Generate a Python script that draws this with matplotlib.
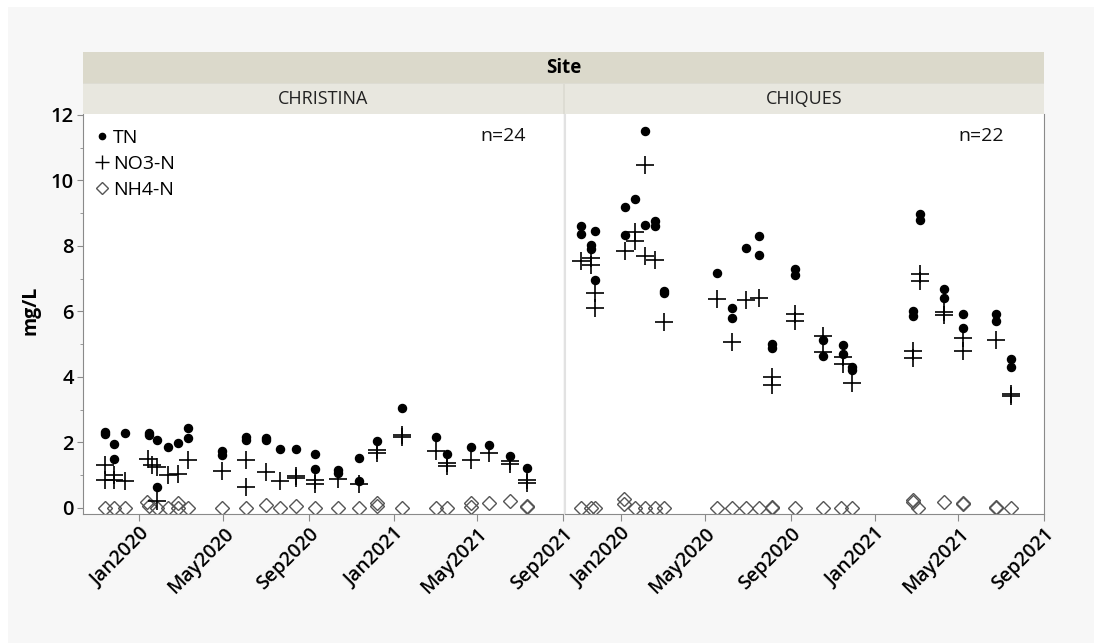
import matplotlib
matplotlib.use("Agg")
import matplotlib.pyplot as plt
import matplotlib.dates as mdates
from matplotlib.lines import Line2D
from matplotlib.patches import Rectangle
from matplotlib.ticker import MultipleLocator
import pandas as pd

plt.rcParams["font.family"] = ["Open Sans", "DejaVu Sans"]

W, H = 1094, 643

# CHRISTINA site
christina_tn_dates = [
    "2019-11-12", "2019-11-12", "2019-11-25", "2019-11-25", "2019-12-11",
    "2020-01-15", "2020-01-15", "2020-01-26", "2020-01-26", "2020-02-11",
    "2020-02-25", "2020-03-11", "2020-03-11", "2020-04-29", "2020-04-29",
    "2020-06-02", "2020-06-02", "2020-07-01", "2020-07-01", "2020-07-22",
    "2020-08-14", "2020-09-10", "2020-09-10", "2020-10-13", "2020-10-13",
    "2020-11-12", "2020-11-12", "2020-12-08", "2021-01-13", "2021-03-03",
    "2021-03-18", "2021-04-22", "2021-05-18", "2021-06-17", "2021-07-11",
]
christina_tn = [
    2.30, 2.24, 1.94, 1.50, 2.28,
    2.28, 2.22, 2.07, 0.63, 1.85,
    1.99, 2.45, 2.14, 1.73, 1.61,
    2.17, 2.07, 2.14, 2.08, 1.81,
    1.81, 1.63, 1.18, 1.15, 1.05,
    1.51, 0.82, 2.04, 3.05, 2.15,
    1.64, 1.86, 1.92, 1.58, 1.22,
]
christina_no3_dates = [
    "2019-11-12", "2019-11-12", "2019-11-25", "2019-11-25", "2019-12-11",
    "2020-01-13", "2020-01-19", "2020-01-26", "2020-01-26", "2020-02-11",
    "2020-02-25", "2020-03-11", "2020-04-29", "2020-06-02", "2020-06-02",
    "2020-07-01", "2020-07-22", "2020-08-14", "2020-08-14", "2020-09-10",
    "2020-09-10", "2020-10-13", "2020-11-12", "2020-12-08", "2020-12-08",
    "2021-01-13", "2021-01-13", "2021-03-03", "2021-03-18", "2021-03-18",
    "2021-04-22", "2021-05-18", "2021-06-17", "2021-06-17", "2021-07-11",
    "2021-07-11",
]
christina_no3 = [
    1.30, 0.86, 1.00, 0.86, 0.82,
    1.48, 1.30, 1.25, 0.22, 1.00,
    1.02, 1.46, 1.13, 1.47, 0.62,
    1.09, 0.82, 0.97, 0.90, 0.84,
    0.72, 0.89, 0.72, 1.76, 1.68,
    2.22, 2.15, 1.73, 1.37, 1.27,
    1.46, 1.66, 1.42, 1.33, 0.86,
    0.76,
]
christina_nh4_dates = [
    "2019-11-12", "2019-11-25", "2019-12-11", "2020-01-12", "2020-01-15",
    "2020-01-26", "2020-02-11", "2020-02-25", "2020-02-25", "2020-03-11",
    "2020-04-29", "2020-06-02", "2020-07-01", "2020-07-22", "2020-08-14",
    "2020-09-10", "2020-10-13", "2020-11-12", "2020-12-08", "2020-12-08",
    "2021-01-13", "2021-03-03", "2021-03-18", "2021-04-22", "2021-04-22",
    "2021-05-18", "2021-06-17", "2021-07-11", "2021-07-11",
]
christina_nh4 = [
    0.00, 0.00, 0.00, 0.18, 0.04,
    0.00, 0.00, 0.14, 0.00, 0.00,
    0.00, 0.00, 0.09, 0.00, 0.06,
    0.00, 0.00, 0.00, 0.14, 0.04,
    0.00, 0.00, 0.00, 0.14, 0.01,
    0.14, 0.22, 0.06, 0.03,
]

# CHIQUES site
chiques_tn_dates = [
    "2019-11-04", "2019-11-04", "2019-11-18", "2019-11-18", "2019-11-24",
    "2019-11-24", "2020-01-06", "2020-01-06", "2020-01-21", "2020-02-04",
    "2020-02-04", "2020-02-18", "2020-02-18", "2020-03-03", "2020-03-03",
    "2020-05-18", "2020-06-09", "2020-06-09", "2020-06-29", "2020-07-18",
    "2020-07-18", "2020-08-05", "2020-08-05", "2020-09-07", "2020-09-07",
    "2020-10-18", "2020-10-18", "2020-11-15", "2020-11-15", "2020-11-29",
    "2020-11-29", "2021-02-24", "2021-02-24", "2021-03-06", "2021-03-06",
    "2021-04-10", "2021-04-10", "2021-05-07", "2021-05-07", "2021-06-24",
    "2021-06-24", "2021-07-15", "2021-07-15",
]
chiques_tn = [
    8.62, 8.37, 8.02, 7.92, 8.46,
    6.97, 9.19, 8.33, 9.42, 11.51,
    8.63, 8.76, 8.62, 6.63, 6.57,
    7.18, 6.09, 5.79, 7.95, 8.31,
    7.71, 4.99, 4.89, 7.28, 7.12,
    5.13, 4.63, 4.96, 4.69, 4.30,
    4.20, 6.00, 5.87, 8.97, 8.79,
    6.69, 6.40, 5.92, 5.49, 5.92,
    5.71, 4.56, 4.31,
]
chiques_no3_dates = [
    "2019-11-04", "2019-11-18", "2019-11-18", "2019-11-24", "2019-11-24",
    "2020-01-06", "2020-01-21", "2020-01-21", "2020-02-04", "2020-02-04",
    "2020-02-18", "2020-03-03", "2020-05-18", "2020-06-09", "2020-06-29",
    "2020-07-18", "2020-08-05", "2020-08-05", "2020-09-07", "2020-09-07",
    "2020-10-18", "2020-10-18", "2020-11-15", "2020-11-15", "2020-11-29",
    "2021-02-24", "2021-02-24", "2021-03-06", "2021-03-06", "2021-04-10",
    "2021-04-10", "2021-05-07", "2021-05-07", "2021-06-24", "2021-07-15",
    "2021-07-15",
]
chiques_no3 = [
    7.53, 7.63, 7.43, 6.56, 6.09,
    7.85, 8.44, 8.16, 10.48, 7.69,
    7.56, 5.69, 6.38, 5.05, 6.35,
    6.40, 4.00, 3.76, 5.92, 5.71,
    5.25, 4.77, 4.61, 4.38, 3.82,
    4.79, 4.58, 7.15, 6.94, 5.97,
    5.89, 5.20, 4.79, 5.13, 3.48,
    3.40,
]
chiques_nh4_dates = [
    "2019-11-04", "2019-11-19", "2019-11-24", "2020-01-05", "2020-01-05",
    "2020-01-21", "2020-02-04", "2020-02-18", "2020-03-03", "2020-05-18",
    "2020-06-09", "2020-06-29", "2020-07-18", "2020-08-05", "2020-08-05",
    "2020-09-07", "2020-10-18", "2020-11-13", "2020-11-29", "2021-02-24",
    "2021-02-24", "2021-03-04", "2021-04-10", "2021-05-07", "2021-05-07",
    "2021-06-24", "2021-06-24", "2021-07-15",
]
chiques_nh4 = [
    0.00, 0.00, 0.00, 0.28, 0.10,
    0.00, 0.00, 0.00, 0.00, 0.00,
    0.00, 0.00, 0.00, 0.00, 0.02,
    0.00, 0.00, 0.00, 0.00, 0.25,
    0.18, 0.00, 0.17, 0.13, 0.10,
    0.02, 0.00, 0.00,
]

site_names = ["CHRISTINA", "CHIQUES"]
site_counts = [24, 22]


def draw_panel(ax, tn_d, tn, no3_d, no3, nh4_d, nh4, first):
    ax.set_facecolor("white")
    ax.plot(pd.to_datetime(nh4_d), nh4, ls="none", marker="D", ms=7.3,
            mfc="none", mec="#555555", mew=1.0, zorder=2)
    ax.plot(pd.to_datetime(no3_d), no3, ls="none", marker="+", ms=12.5,
            mec="black", mew=1.2, zorder=3)
    ax.plot(pd.to_datetime(tn_d), tn, ls="none", marker="o", ms=5.8,
            color="black", zorder=4)

    ax.set_xlim(pd.Timestamp("2019-10-12"), pd.Timestamp("2021-09-01 06:00"))
    ax.set_ylim(-0.2, 12.03)
    ax.xaxis.set_major_locator(mdates.MonthLocator(bymonth=[1, 5, 9]))
    ax.xaxis.set_major_formatter(mdates.DateFormatter("%b%Y"))
    ax.tick_params(axis="x", length=5, color="#8a8a8a", labelsize=14, pad=2)
    for lab in ax.get_xticklabels():
        lab.set_rotation(45)
        lab.set_ha("right")
        lab.set_va("top")
        lab.set_rotation_mode("anchor")
        lab.set_fontweight("semibold")

    ax.spines["top"].set_visible(False)
    ax.spines["bottom"].set_color("#8a8a8a")

    if first:
        ax.yaxis.set_major_locator(MultipleLocator(2))
        ax.yaxis.set_minor_locator(MultipleLocator(1))
        ax.tick_params(axis="y", which="major", length=4.5, color="#8a8a8a",
                       labelsize=14.5, pad=2)
        ax.tick_params(axis="y", which="minor", length=2.5, color="#8a8a8a")
        for lab in ax.get_yticklabels():
            lab.set_fontweight("semibold")
        ax.spines["left"].set_color("#8a8a8a")
        ax.spines["right"].set_visible(False)
    else:
        ax.tick_params(axis="y", which="both", left=False, labelleft=False)
        ax.spines["left"].set_color("#e2e2e2")
        ax.spines["left"].set_linewidth(1.5)
        ax.spines["right"].set_color("#8a8a8a")


fig = plt.figure(figsize=(W / 100, H / 100), dpi=100)
fig.patch.set_facecolor("white")
fig.add_artist(Rectangle((8 / W, 0), 1, 1 - 7 / H, transform=fig.transFigure,
                         facecolor="#f7f7f7", edgecolor="none", zorder=-5))

# header bands
fig.add_artist(Rectangle((83 / W, 1 - 83 / H), (1044 - 83) / W, 31 / H,
                         transform=fig.transFigure, facecolor="#dbd9cb",
                         edgecolor="none"))
fig.add_artist(Rectangle((83 / W, 1 - 114 / H), (1044 - 83) / W, 31 / H,
                         transform=fig.transFigure, facecolor="#dddcd3",
                         edgecolor="none"))
fig.text(563.5 / W, 1 - 68 / H, "Site", ha="center", va="center",
         fontsize=13.5, fontweight="bold")

panel_left = [83, 565]
panel_right = [563, 1044]
for name, x0, x1 in zip(site_names, panel_left, panel_right):
    fig.add_artist(Rectangle((x0 / W, 1 - 114 / H), (x1 - x0) / W, 30 / H,
                             transform=fig.transFigure, facecolor="#e8e7df",
                             edgecolor="none"))
    fig.text((x0 + x1) / 2 / W, 1 - 99 / H, name, ha="center", va="center",
             fontsize=13, color="#222222")

ax1 = fig.add_axes([83 / W, 1 - 514.3 / H, 480 / W, 400.3 / H])
ax2 = fig.add_axes([565 / W, 1 - 514.3 / H, 479 / W, 400.3 / H])

draw_panel(ax1, christina_tn_dates, christina_tn, christina_no3_dates,
           christina_no3, christina_nh4_dates, christina_nh4, True)
draw_panel(ax2, chiques_tn_dates, chiques_tn, chiques_no3_dates,
           chiques_no3, chiques_nh4_dates, chiques_nh4, False)

for x, n in zip([503, 981], site_counts):
    fig.text(x / W, 1 - 136 / H, f"n={n}", ha="center", va="center",
             fontsize=14, color="#111111")

fig.text(30 / W, 1 - 310 / H, "mg/L", rotation=90, ha="center", va="center",
         fontsize=14, fontweight="bold")

handles = [
    Line2D([], [], ls="none", marker="o", ms=4.5, color="black"),
    Line2D([], [], ls="none", marker="+", ms=10.5, mec="black", mew=1.0),
    Line2D([], [], ls="none", marker="D", ms=6, mfc="none", mec="#555555", mew=1.0),
]
ax1.legend(handles, ["TN", "NO3-N", "NH4-N"], loc="upper left", frameon=False,
           fontsize=14, handlelength=0.5, handletextpad=0.3,
           labelspacing=0.42, borderaxespad=0.2, borderpad=0.55)

fig.savefig("out.png", dpi=100)
